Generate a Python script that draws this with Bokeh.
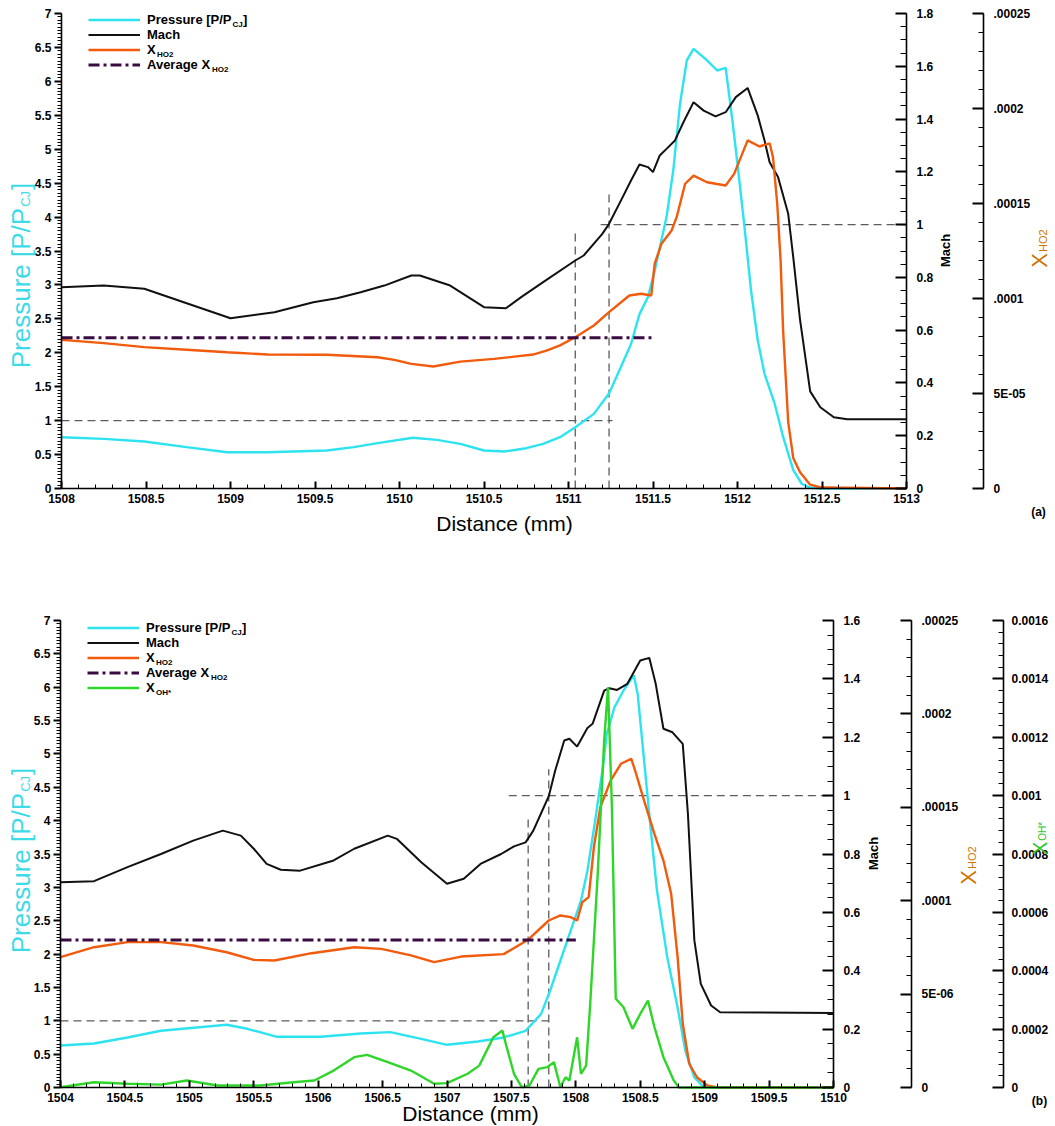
import math
import numpy as np
from bokeh.plotting import figure
from bokeh.models import (Range1d, LinearAxis, FixedTicker, CustomJSTickFormatter,
                          Legend, LegendItem, Label)
from bokeh.layouts import column
from bokeh.embed import file_html
from bokeh.resources import INLINE

FONT = "Liberation Sans"
CYAN = "#2ee3f0"
BLACK = "#111111"
ORANGE = "#f25a0c"
GREEN = "#2fd62a"
AVG = "#3b0c44"
REF = "#5c5c5c"
HO2_COLOR = "#cf7400"
OH_COLOR = "#2fc42a"
PRESS_LABEL = "#3ddbe8"

# ---------------- panel (a) data ----------------
press_a_x = [1508.0, 1508.25, 1508.49, 1508.74, 1508.98, 1509.22, 1509.57, 1509.73, 1509.87,
             1510.08, 1510.22, 1510.36, 1510.50, 1510.62, 1510.75, 1510.85, 1510.95, 1511.04,
             1511.15, 1511.24, 1511.31, 1511.37, 1511.42, 1511.47, 1511.51, 1511.58, 1511.62,
             1511.66, 1511.70, 1511.74, 1511.81, 1511.88, 1511.93, 1511.97, 1512.00, 1512.04,
             1512.08, 1512.12, 1512.16, 1512.22, 1512.27, 1512.33, 1512.38, 1512.43, 1512.50, 1513.0]
press_a = [0.756, 0.732, 0.692, 0.609, 0.535, 0.535, 0.560, 0.609, 0.668,
           0.747, 0.717, 0.658, 0.560, 0.545, 0.594, 0.658, 0.756, 0.904,
           1.10, 1.40, 1.79, 2.13, 2.57, 2.82, 3.21, 4.00, 4.69,
           5.67, 6.31, 6.48, 6.33, 6.16, 6.20, 5.42, 4.78, 3.89,
           2.92, 2.18, 1.69, 1.25, 0.76, 0.27, 0.07, 0.01, 0.0, 0.0]

mach_a_x = [1508.0, 1508.25, 1508.49, 1509.0, 1509.26, 1509.49, 1509.63, 1509.77, 1509.91,
            1510.07, 1510.12, 1510.30, 1510.50, 1510.63, 1510.72, 1510.85, 1511.04, 1511.09,
            1511.20, 1511.24, 1511.31, 1511.37, 1511.42, 1511.47, 1511.50, 1511.54, 1511.58,
            1511.63, 1511.68, 1511.74, 1511.80, 1511.87, 1511.93, 1511.99, 1512.06, 1512.12,
            1512.16, 1512.19, 1512.24, 1512.30, 1512.33, 1512.37, 1512.43, 1512.49, 1512.57,
            1512.65, 1513.0]
mach_a = [0.763, 0.769, 0.757, 0.645, 0.668, 0.706, 0.721, 0.744, 0.769,
          0.807, 0.807, 0.769, 0.687, 0.683, 0.725, 0.782, 0.864, 0.883,
          0.965, 1.003, 1.091, 1.167, 1.228, 1.218, 1.199, 1.262, 1.287,
          1.319, 1.388, 1.464, 1.432, 1.410, 1.426, 1.483, 1.518, 1.413,
          1.319, 1.236, 1.180, 1.041, 0.876, 0.640, 0.368, 0.308, 0.270,
          0.262, 0.262]

xho2_a_x = [1508.0, 1508.25, 1508.49, 1508.74, 1508.98, 1509.22, 1509.57, 1509.87, 1509.97,
            1510.07, 1510.20, 1510.36, 1510.56, 1510.79, 1510.87, 1510.95, 1511.04, 1511.15,
            1511.24, 1511.36, 1511.43, 1511.49, 1511.51, 1511.55, 1511.61, 1511.64, 1511.69,
            1511.74, 1511.82, 1511.93, 1511.98, 1512.06, 1512.13, 1512.19, 1512.21, 1512.235,
            1512.255, 1512.27, 1512.30, 1512.33, 1512.37, 1512.43, 1512.50, 1513.0]
xho2_a_1e5 = [7.82, 7.65, 7.44, 7.30, 7.17, 7.05, 7.04, 6.91, 6.77,
              6.56, 6.42, 6.68, 6.82, 7.05, 7.26, 7.53, 7.96, 8.58,
              9.28, 10.16, 10.25, 10.16, 11.83, 12.88, 13.58, 14.28, 16.04,
              16.47, 16.12, 15.95, 16.56, 18.32, 18.00, 18.17, 17.44, 15.0,
              12.0, 8.3, 3.5, 1.6, 0.85, 0.2, 0.05, 0.0]

avg_xho2_a = 7.93e-5
avg_span_a = [1508.0, 1511.5]
p_one_span_a = [1508.0, 1511.26]
mach_one_span_a = [1511.19, 1513.0]
front_x_a = [1511.04, 1511.24]
front_top_mach_a = [0.978, 1.118]

# ---------------- panel (b) data ----------------
press_b_x = [1504.0, 1504.26, 1504.52, 1504.78, 1505.29, 1505.45, 1505.68, 1506.02, 1506.33,
             1506.56, 1506.80, 1507.00, 1507.24, 1507.44, 1507.61, 1507.73, 1507.80, 1507.88,
             1507.96, 1508.04, 1508.09, 1508.15, 1508.21, 1508.24, 1508.30, 1508.37, 1508.45,
             1508.48, 1508.53, 1508.58, 1508.63, 1508.71, 1508.79, 1508.85, 1508.92, 1508.98,
             1509.05, 1510.0]
press_b = [0.63, 0.66, 0.75, 0.85, 0.94, 0.88, 0.76, 0.76, 0.81,
           0.83, 0.73, 0.64, 0.69, 0.75, 0.85, 1.10, 1.45, 1.90,
           2.35, 2.80, 3.25, 4.00, 4.80, 5.30, 5.70, 5.95, 6.18,
           5.90, 4.90, 3.90, 2.95, 1.95, 1.20, 0.55, 0.15, 0.03,
           0.0, 0.0]

mach_b_x = [1504.0, 1504.26, 1504.52, 1504.78, 1505.03, 1505.26, 1505.40, 1505.50, 1505.60,
            1505.71, 1505.86, 1506.12, 1506.28, 1506.54, 1506.61, 1506.80, 1507.00, 1507.13,
            1507.26, 1507.42, 1507.52, 1507.61, 1507.67, 1507.74, 1507.79, 1507.84, 1507.91,
            1507.95, 1508.01, 1508.09, 1508.13, 1508.22, 1508.26, 1508.32, 1508.40, 1508.50,
            1508.57, 1508.62, 1508.68, 1508.75, 1508.83, 1508.87, 1508.92, 1508.97, 1509.05,
            1509.12, 1510.0]
mach_b = [0.703, 0.707, 0.755, 0.80, 0.846, 0.880, 0.863, 0.818, 0.766,
          0.746, 0.743, 0.778, 0.818, 0.863, 0.852, 0.772, 0.698, 0.715,
          0.766, 0.80, 0.826, 0.840, 0.880, 0.949, 0.998, 1.086, 1.189,
          1.195, 1.168, 1.232, 1.246, 1.360, 1.368, 1.362, 1.383, 1.463,
          1.472, 1.383, 1.229, 1.217, 1.177, 0.938, 0.504, 0.355, 0.281,
          0.258, 0.255]

xho2_b_x = [1504.0, 1504.26, 1504.52, 1504.78, 1505.03, 1505.29, 1505.50, 1505.66, 1505.95,
            1506.28, 1506.49, 1506.72, 1506.90, 1507.11, 1507.44, 1507.63, 1507.79, 1507.88,
            1507.96, 1508.01, 1508.05, 1508.10, 1508.14, 1508.19, 1508.27, 1508.35, 1508.43,
            1508.46, 1508.53, 1508.61, 1508.68, 1508.74, 1508.79, 1508.83, 1508.88, 1508.94,
            1509.02, 1509.10, 1510.0]
xho2_b_1e5 = [6.98, 7.51, 7.78, 7.78, 7.60, 7.24, 6.83, 6.80, 7.19,
              7.51, 7.42, 7.07, 6.71, 7.01, 7.14, 7.91, 8.94, 9.21,
              9.12, 8.94, 9.92, 10.19, 12.86, 15.0, 16.43, 17.33, 17.60,
              16.97, 15.36, 13.58, 12.15, 10.37, 6.98, 3.41, 1.27, 0.55,
              0.11, 0.0, 0.0]

xoh_b_x = [1504.0, 1504.26, 1504.52, 1504.78, 1504.98, 1505.22, 1505.55, 1505.81, 1505.97,
           1506.12, 1506.28, 1506.38, 1506.54, 1506.72, 1506.90, 1507.00, 1507.16, 1507.25,
           1507.36, 1507.43, 1507.47, 1507.52, 1507.58, 1507.64, 1507.71, 1507.78, 1507.83,
           1507.88, 1507.92, 1507.95, 1508.01, 1508.04, 1508.08, 1508.11, 1508.17, 1508.22,
           1508.25, 1508.28, 1508.31, 1508.37, 1508.44, 1508.50, 1508.56, 1508.61, 1508.68,
           1508.76, 1508.80, 1510.0]
xoh_b_1e4 = [0.01, 0.18, 0.13, 0.10, 0.24, 0.07, 0.07, 0.18, 0.24,
             0.58, 1.04, 1.12, 0.87, 0.58, 0.13, 0.15, 0.47, 0.75,
             1.72, 1.95, 1.27, 0.47, 0.01, 0.07, 0.64, 0.70, 0.87,
             0.01, 0.35, 0.24, 1.72, 0.47, 0.75, 2.75, 7.32, 11.89,
             13.71, 9.60, 3.04, 2.75, 2.01, 2.52, 2.98, 2.07, 1.04,
             0.24, 0.0, 0.0]

avg_xho2_b = 7.89e-5
avg_span_b = [1504.0, 1508.0]
p_one_span_b = [1504.0, 1507.79]
mach_one_span_b = [1507.48, 1510.0]
front_x_b = [1507.63, 1507.79]
front_top_mach_b = [0.92, 1.09]

# ---------------- ticks ----------------
p_ticks = [0, 0.5, 1, 1.5, 2, 2.5, 3, 3.5, 4, 4.5, 5, 5.5, 6, 6.5, 7]
p_labels = ["0", "0.5", "1", "1.5", "2", "2.5", "3", "3.5", "4", "4.5", "5", "5.5", "6", "6.5", "7"]
x_ticks_a = [1508, 1508.5, 1509, 1509.5, 1510, 1510.5, 1511, 1511.5, 1512, 1512.5, 1513]
x_labels_a = ["1508", "1508.5", "1509", "1509.5", "1510", "1510.5", "1511", "1511.5", "1512", "1512.5", "1513"]
x_ticks_b = [1504, 1504.5, 1505, 1505.5, 1506, 1506.5, 1507, 1507.5, 1508, 1508.5, 1509, 1509.5, 1510]
x_labels_b = ["1504", "1504.5", "1505", "1505.5", "1506", "1506.5", "1507", "1507.5", "1508", "1508.5",
              "1509", "1509.5", "1510"]
mach_ticks_a = [0, 0.2, 0.4, 0.6, 0.8, 1.0, 1.2, 1.4, 1.6, 1.8]
mach_labels_a = ["0", "0.2", "0.4", "0.6", "0.8", "1", "1.2", "1.4", "1.6", "1.8"]
mach_ticks_b = [0, 0.2, 0.4, 0.6, 0.8, 1.0, 1.2, 1.4, 1.6]
mach_labels_b = ["0", "0.2", "0.4", "0.6", "0.8", "1", "1.2", "1.4", "1.6"]
xho2_ticks = [0, 5e-5, 1e-4, 1.5e-4, 2e-4, 2.5e-4]
xho2_labels_a = ["0", "5E-05", ".0001", ".00015", ".0002", ".00025"]
xho2_labels_b = ["0", "5E-06", ".0001", ".00015", ".0002", ".00025"]
xoh_ticks = [0, 2e-4, 4e-4, 6e-4, 8e-4, 1e-3, 1.2e-3, 1.4e-3, 1.6e-3]
xoh_labels = ["0", "0.0002", "0.0004", "0.0006", "0.0008", "0.001", "0.0012", "0.0014", "0.0016"]


def tick_formatter(vals, labels):
    return CustomJSTickFormatter(args=dict(vals=list(vals), labels=list(labels)), code="""
        let best = -1, bestd = Infinity;
        for (let i = 0; i < vals.length; i++) {
            const d = Math.abs(vals[i] - tick);
            if (d < bestd) { bestd = d; best = i; }
        }
        return best >= 0 ? labels[best] : "";
    """)


class Panel:
    """One panel: the figure canvas is the frame; the data box sits inside it at fixed pixels."""
    def __init__(self, W, H, page_top, L, R, T, B, x0, x1, ymax, extra):
        self.page_top = page_top
        self.L, self.R, self.T, self.B = L, R, T, B          # data box, canvas pixels
        self.x0, self.x1, self.ymax = x0, x1, ymax
        sx = (x1 - x0) / (R - L)
        xr = Range1d(x0 - L * sx, x1 + (W - R) * sx)

        def yr(top):
            sy = top / (B - T)
            return Range1d(-(H - B) * sy, top + T * sy)

        self.fig = figure(frame_width=W, frame_height=H, x_range=xr, y_range=yr(ymax),
                          output_backend="svg", toolbar_location=None,
                          x_axis_location=None, y_axis_location=None,
                          min_border=0, min_border_left=0, min_border_right=0,
                          min_border_top=0, min_border_bottom=0,
                          outline_line_color=None, background_fill_color="white",
                          border_fill_color="white")
        self.fig.grid.visible = False
        self.fig.extra_y_ranges = {k: yr(v) for k, v in extra.items()}

    def x(self, px):
        return self.x0 + (px - self.L) / (self.R - self.L) * (self.x1 - self.x0)

    def y(self, py):
        return (self.B - (py - self.page_top)) / (self.B - self.T) * self.ymax

    def axis(self, side, ticks, labels, minor, loc, bounds, range_name=None,
             t_in=0, t_out=0, m_in=0, m_out=0, standoff=4):
        kw = dict(y_range_name=range_name) if range_name else {}
        ax = LinearAxis(ticker=FixedTicker(ticks=list(ticks),
                                           minor_ticks=[float(v) for v in minor]),
                        formatter=tick_formatter(ticks, labels),
                        fixed_location=loc, bounds=bounds, **kw)
        ax.major_tick_in = t_in
        ax.major_tick_out = t_out
        ax.minor_tick_in = m_in
        ax.minor_tick_out = m_out
        ax.major_label_standoff = standoff
        ax.axis_line_width = 1.6
        ax.axis_line_color = "black"
        ax.major_tick_line_width = 2
        ax.minor_tick_line_width = 1
        ax.major_label_text_font = FONT
        ax.major_label_text_font_style = "bold"
        ax.major_label_text_font_size = "12px"
        ax.major_label_text_color = "black"
        self.fig.add_layout(ax, side)
        return ax

    def text(self, px, py, s, size, color="black", bold=False, angle=0.0,
             align="left", baseline="middle"):
        self.fig.add_layout(Label(x=self.x(px), y=self.y(py), text=s, text_font=FONT,
                                  text_font_size=f"{size}px", text_color=color,
                                  text_font_style="bold" if bold else "normal",
                                  angle=angle, text_align=align, text_baseline=baseline))

    def vertical_label(self, cx, cy, parts, color):
        """Bottom-to-top label built from (text, size, width_per_px, offset) pieces."""
        total = sum(w * size for _, size, w, _ in parts) + 1.0 * (len(parts) - 1)
        pos = cy + total / 2
        for s, size, w, off in parts:
            self.text(cx + off, pos, s, size, color, angle=math.pi / 2)
            pos -= w * size + 1.0

    def legend(self, entries, left_px, top_px, row_h):
        items = [LegendItem(label=lab, renderers=[r]) for lab, r in entries]
        n = len(items)
        H = self.fig.frame_height
        lg = Legend(items=items, location=(left_px, H - (top_px - self.page_top) - n * row_h),
                    padding=0, margin=0, spacing=0, glyph_width=52, glyph_height=row_h,
                    label_height=row_h, label_standoff=7,
                    label_text_font=FONT, label_text_font_size="13px",
                    label_text_font_style="bold", label_text_color="black",
                    border_line_alpha=0, background_fill_alpha=0)
        self.fig.add_layout(lg)


UP = math.pi / 2
# label pieces: text, font px, advance per font px, sideways shift (subscripts sit lower)
PRESS_PARTS = [("Pressure [P/P", 26, 6.169, 0), ("CJ", 13, 1.222, 5), ("]", 26, 0.278, 0)]
HO2_PARTS = [("X", 22, 0.667, 0), ("HO2", 11, 2.056, 3)]
OH_PARTS = [("X", 20, 0.667, 0), ("OH*", 10, 1.889, 3)]

# =============== panel (a) ===============
A = Panel(1055, 560, 0, 61, 906, 13, 488, 1508.0, 1513.0, 7.0,
          {"mach": 1.8, "xho2": 2.5e-4})
pa = A.fig
A.axis("left", p_ticks, p_labels, np.arange(0, 7.001, 0.05), 1508.0, (0, 7),
       t_out=7, m_out=4, standoff=3)
A.axis("below", x_ticks_a, x_labels_a, np.arange(1508, 1513.001, 0.1), 0.0, (1508, 1513),
       t_in=7, m_in=4, standoff=5)
A.axis("right", mach_ticks_a, mach_labels_a, np.arange(0, 1.8001, 0.05), 1513.0, (0, 1.8), "mach",
       t_in=11, m_in=6, standoff=10)
A.axis("right", xho2_ticks, xho2_labels_a, np.arange(0, 2.5001e-4, 1e-5), A.x(983), (0, 2.5e-4), "xho2",
       t_in=11, m_in=5, standoff=10)

pa.line(p_one_span_a, [1.0, 1.0], line_color=REF, line_width=1.3, line_dash="8 5")
pa.line(mach_one_span_a, [1.0, 1.0], y_range_name="mach", line_color=REF, line_width=1.3, line_dash="8 5")
pa.segment(x0=front_x_a, y0=[0, 0], x1=front_x_a, y1=front_top_mach_a, y_range_name="mach",
           line_color=REF, line_width=1.3, line_dash="8 5")

ra_p = pa.line(press_a_x, press_a, line_color=CYAN, line_width=2.4)
ra_m = pa.line(mach_a_x, mach_a, y_range_name="mach", line_color=BLACK, line_width=2.0)
ra_x = pa.line(xho2_a_x, np.array(xho2_a_1e5) * 1e-5, y_range_name="xho2", line_color=ORANGE, line_width=2.4)
ra_avg = pa.line(avg_span_a, [avg_xho2_a, avg_xho2_a], y_range_name="xho2",
                 line_color=AVG, line_width=3, line_dash="11 4 3 4")

A.legend([("Pressure [P/P", ra_p), ("Mach", ra_m), ("X", ra_x), ("Average X", ra_avg)],
         88, 11.5, 15)
A.text(232, 24, "CJ", 8, bold=True, baseline="alphabetic")
A.text(242.5, 19, "]", 13, bold=True)
A.text(156.5, 54, "HO2", 8, bold=True, baseline="alphabetic")
A.text(211.5, 69, "HO2", 8, bold=True, baseline="alphabetic")

A.vertical_label(20, 275, PRESS_PARTS, PRESS_LABEL)
A.text(504, 523, "Distance (mm)", 21, align="center")
A.text(945, 250, "Mach", 13, bold=True, angle=UP, align="center")
A.vertical_label(1039, 248, HO2_PARTS, HO2_COLOR)
A.text(1038, 511, "(a)", 12, bold=True, align="center")

# =============== panel (b) ===============
B = Panel(1055, 566, 560, 60, 833, 60, 527, 1504.0, 1510.0, 7.0,
          {"mach": 1.6, "xho2": 2.5e-4, "xoh": 1.6e-3})
pb = B.fig
B.axis("left", p_ticks, p_labels, np.arange(0, 7.001, 0.05), 1504.0, (0, 7),
       t_out=7, m_out=4, standoff=3)
B.axis("below", x_ticks_b, x_labels_b, np.arange(1504, 1510.001, 0.1), 0.0, (1504, 1510),
       t_in=7, m_in=4, standoff=5)
B.axis("right", mach_ticks_b, mach_labels_b, np.arange(0, 1.6001, 0.05), 1510.0, (0, 1.6), "mach",
       t_in=11, m_in=6, standoff=10)
B.axis("right", xho2_ticks, xho2_labels_b, np.arange(0, 2.5001e-4, 1e-5), B.x(911), (0, 2.5e-4), "xho2",
       t_in=11, m_in=5, standoff=10)
B.axis("right", xoh_ticks, xoh_labels, np.arange(0, 1.6001e-3, 4e-5), B.x(1003), (0, 1.6e-3), "xoh",
       t_in=11, m_in=5, standoff=8)

pb.line(p_one_span_b, [1.0, 1.0], line_color=REF, line_width=1.3, line_dash="8 5")
pb.line(mach_one_span_b, [1.0, 1.0], y_range_name="mach", line_color=REF, line_width=1.3, line_dash="8 5")
pb.segment(x0=front_x_b, y0=[0, 0], x1=front_x_b, y1=front_top_mach_b, y_range_name="mach",
           line_color=REF, line_width=1.3, line_dash="8 5")

rb_p = pb.line(press_b_x, press_b, line_color=CYAN, line_width=2.4)
rb_m = pb.line(mach_b_x, mach_b, y_range_name="mach", line_color=BLACK, line_width=2.0)
rb_x = pb.line(xho2_b_x, np.array(xho2_b_1e5) * 1e-5, y_range_name="xho2", line_color=ORANGE, line_width=2.4)
rb_avg = pb.line(avg_span_b, [avg_xho2_b, avg_xho2_b], y_range_name="xho2",
                 line_color=AVG, line_width=3, line_dash="11 4 3 4")
rb_oh = pb.line(xoh_b_x, np.array(xoh_b_1e4) * 1e-4, y_range_name="xoh", line_color=GREEN, line_width=2.4)

B.legend([("Pressure [P/P", rb_p), ("Mach", rb_m), ("X", rb_x), ("Average X", rb_avg), ("X", rb_oh)],
         87, 619.5, 15)
B.text(231, 632, "CJ", 8, bold=True, baseline="alphabetic")
B.text(241.5, 627, "]", 13, bold=True)
B.text(155.5, 662, "HO2", 8, bold=True, baseline="alphabetic")
B.text(210.5, 677, "HO2", 8, bold=True, baseline="alphabetic")
B.text(155.5, 692, "OH*", 8, bold=True, baseline="alphabetic")

B.vertical_label(20, 860, PRESS_PARTS, PRESS_LABEL)
B.text(470, 1113, "Distance (mm)", 21, align="center")
B.text(873, 853, "Mach", 13, bold=True, angle=UP, align="center")
B.vertical_label(968, 865, HO2_PARTS, HO2_COLOR)
B.vertical_label(1039, 838, OH_PARTS, OH_COLOR)
B.text(1039, 1100, "(b)", 12, bold=True, align="center")

layout = column(pa, pb)
open("out.html", "w").write(file_html(layout, INLINE))
